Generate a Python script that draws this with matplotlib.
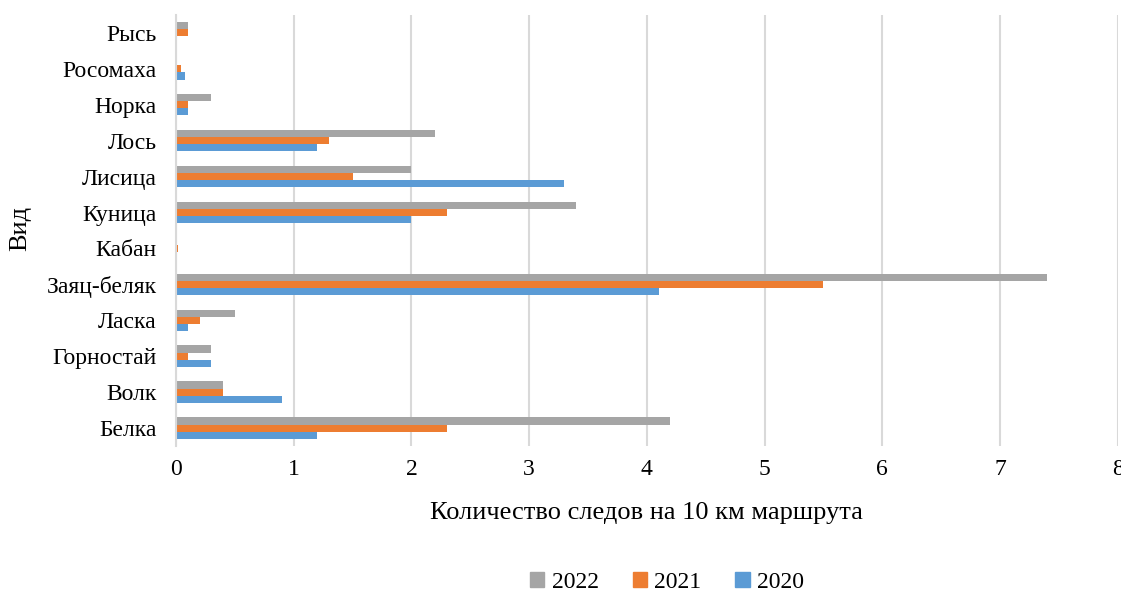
import numpy as np
import matplotlib.pyplot as plt
from matplotlib.patches import Patch

plt.rcParams['font.family'] = ['Liberation Serif', 'DejaVu Serif']

# Data (bottom to top as on chart)
species = ["Белка", "Волк", "Горностай", "Ласка", "Заяц-беляк", "Кабан",
           "Куница", "Лисица", "Лось", "Норка", "Росомаха", "Рысь"]
v2022 = [4.2, 0.4, 0.3, 0.5, 7.4, 0.0, 3.4, 2.0, 2.2, 0.3, 0.0, 0.1]
v2021 = [2.3, 0.4, 0.1, 0.2, 5.5, 0.02, 2.3, 1.5, 1.3, 0.1, 0.04, 0.1]
v2020 = [1.2, 0.9, 0.3, 0.1, 4.1, 0.0, 2.0, 3.3, 1.2, 0.1, 0.08, 0.0]

c2022 = '#a5a5a5'
c2021 = '#ed7d31'
c2020 = '#5b9bd5'

fig = plt.figure(figsize=(11.21, 5.94), dpi=100)
ax = fig.add_axes([0.157, 0.249, 0.840, 0.726])

y = np.arange(len(species))
h = 0.2
ax.barh(y + h, v2022, h, color=c2022, label='2022')
ax.barh(y, v2021, h, color=c2021, label='2021')
ax.barh(y - h, v2020, h, color=c2020, label='2020')

ax.set_xlim(0, 8)
ax.set_ylim(-0.5, len(species) - 0.5)
ax.set_xticks(range(0, 9))
ax.set_yticks(y)
ax.set_yticklabels(species)
ax.tick_params(axis='both', length=0, labelsize=17)
ax.tick_params(axis='x', pad=9)
ax.tick_params(axis='y', pad=14)

ax.grid(axis='x', color='#d9d9d9', linewidth=1.5)
ax.set_axisbelow(True)
for s in ['top', 'right', 'bottom']:
    ax.spines[s].set_visible(False)
ax.spines['left'].set_color('#d9d9d9')
ax.spines['left'].set_linewidth(1.5)

ax.set_xlabel("Количество следов на 10 км маршрута", fontsize=19, labelpad=16)
fig.text(0.018, 0.615, "Вид", fontsize=19, rotation=90, ha='center', va='center')

handles = [Patch(color=c2022, label='2022'),
           Patch(color=c2021, label='2021'),
           Patch(color=c2020, label='2020')]
fig.legend(handles=handles, loc='center', bbox_to_anchor=(0.595, 0.02),
           ncol=3, frameon=False, fontsize=17, handlelength=0.6,
           handleheight=0.6, handletextpad=0.3, columnspacing=1.45)

fig.savefig('out.png', dpi=100)
